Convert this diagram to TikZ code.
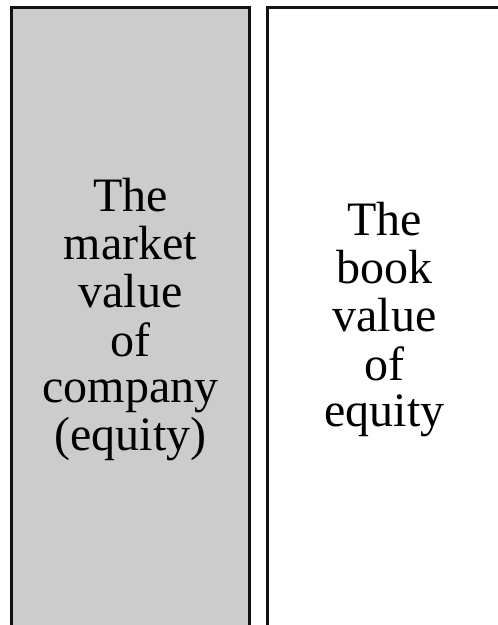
\documentclass[tikz,border=0pt]{standalone}
\usepackage{fontspec}
\setmainfont{Liberation Serif}
\begin{document}
\begin{tikzpicture}[x=1pt,y=-1pt,
  column/.style={draw=black!93, line width=2.7pt, rectangle, inner sep=0pt,
    outer sep=0pt, minimum height=627.4pt, anchor=north west},
  shaded/.style={column, fill=black!20, minimum width=237.8pt},
  plain/.style={column, fill=white, minimum width=260pt},
  caption/.style={align=center, inner sep=0pt,
    font=\fontsize{48}{46}\selectfont}]
  \useasboundingbox (0,0) rectangle (498,625);
  \clip (0,0) rectangle (498,625);
  \fill[white] (0,0) rectangle (498,625);
  % market value column (shaded) and book value column (plain, running past the right edge)
  \node[shaded] (market) at (11.7,7.3) {};
  \node[plain] (book) at (267.3,7.3) {};
  \node[caption] (marketText) at (130.6,321)
    {\strut The\\\strut market\\\strut value\\\strut of\\\strut company\\\strut (equity)};
  \node[caption] (bookText) at (384.5,321)
    {\strut The\\\strut book\\\strut value\\\strut of\\\strut equity};
\end{tikzpicture}
\end{document}
